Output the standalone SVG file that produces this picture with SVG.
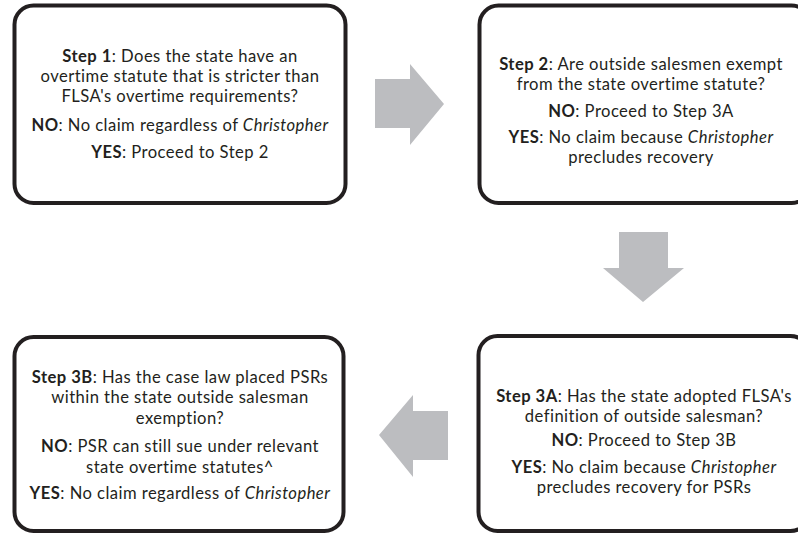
<svg xmlns="http://www.w3.org/2000/svg" width="798" height="535" viewBox="0 0 798 535">
<style>
.box{fill:#ffffff;stroke:#231f20;stroke-width:4}
.arr{fill:#bcbdc0}
text{font-family:Lato,"Open Sans","Liberation Sans",sans-serif;font-size:16.6px;letter-spacing:0.45px;fill:#231f20;text-anchor:middle}
.b{font-weight:bold}
.i{font-style:italic}
</style>
<rect width="798" height="535" fill="#ffffff"/>
<g id="connectors">
<polygon class="arr" points="375,79 410,79 410,64 444,104 410,145 410,128 375,128"/>
<polygon class="arr" points="619,232 668,232 668,268 684,268 643,302 603,268 619,268"/>
<polygon class="arr" points="448,411 413,411 413,395 379,435 413,477 413,460 448,460"/>
</g>
<g id="step1">
<rect class="box" x="14.5" y="5.5" width="331" height="197.5" rx="19"/>
<text x="180" y="62"><tspan class="b">Step 1</tspan>: Does the state have an</text>
<text x="180" y="82">overtime statute that is stricter than</text>
<text x="180" y="102">FLSA's overtime requirements?</text>
<text x="180" y="131"><tspan class="b">NO</tspan>: No claim regardless of <tspan class="i">Christopher</tspan></text>
<text x="180" y="158"><tspan class="b">YES</tspan>: Proceed to Step 2</text>
</g>
<g id="step2">
<rect class="box" x="479.5" y="5.5" width="331" height="197.5" rx="19"/>
<text x="641" y="70"><tspan class="b">Step 2</tspan>: Are outside salesmen exempt</text>
<text x="641" y="90">from the state overtime statute?</text>
<text x="641" y="117"><tspan class="b">NO</tspan>: Proceed to Step 3A</text>
<text x="641" y="143"><tspan class="b">YES</tspan>: No claim because <tspan class="i">Christopher</tspan></text>
<text x="641" y="163">precludes recovery</text>
</g>
<g id="step3a">
<rect class="box" x="478.5" y="336" width="331" height="195" rx="19"/>
<text x="644" y="402"><tspan class="b">Step 3A</tspan>: Has the state adopted FLSA's</text>
<text x="644" y="422">definition of outside salesman?</text>
<text x="644" y="446"><tspan class="b">NO</tspan>: Proceed to Step 3B</text>
<text x="644" y="473"><tspan class="b">YES</tspan>: No claim because <tspan class="i">Christopher</tspan></text>
<text x="644" y="493">precludes recovery for PSRs</text>
</g>
<g id="step3b">
<rect class="box" x="14.5" y="337" width="329" height="194" rx="19"/>
<text x="180" y="383"><tspan class="b">Step 3B</tspan>: Has the case law placed PSRs</text>
<text x="180" y="403">within the state outside salesman</text>
<text x="180" y="424">exemption?</text>
<text x="180" y="452"><tspan class="b">NO</tspan>: PSR can still sue under relevant</text>
<text x="180" y="473">state overtime statutes^</text>
<text x="180" y="499"><tspan class="b">YES</tspan>: No claim regardless of  <tspan class="i">Christopher</tspan></text>
</g>
</svg>
